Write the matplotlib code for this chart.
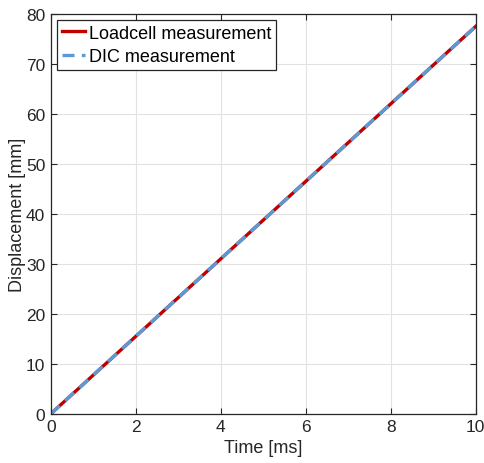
import matplotlib
matplotlib.use("Agg")
from matplotlib import pyplot as plt

plt.rcParams['font.family'] = ['Liberation Sans', 'DejaVu Sans']

# data
time_loadcell = [0, 2, 4, 6, 8, 10]
disp_loadcell = [0, 15.5, 31.0, 46.5, 62.0, 77.5]
time_dic = [0, 2, 4, 6, 8, 10]
disp_dic = [0, 15.5, 31.0, 46.5, 62.0, 77.5]

xticks = [0, 2, 4, 6, 8, 10]
yticks = [0, 10, 20, 30, 40, 50, 60, 70, 80]

fig = plt.figure(figsize=(4.84, 4.64), dpi=100)
ax = fig.add_axes([0.105, 0.106, 0.878, 0.862])

ax.plot(time_loadcell, disp_loadcell, color="#C00000", lw=2.4, label="Loadcell measurement")
ax.plot(time_dic, disp_dic, color="#5B9BD5", lw=2.4, ls=(0, (3.6, 2.2)), label="DIC measurement")

ax.set_xlim(0, 10)
ax.set_ylim(0, 80)
ax.set_xticks(xticks)
ax.set_yticks(yticks)
ax.tick_params(direction="in", top=True, right=True, labelsize=12.5, length=4, width=0.8,
               colors="#262626", pad=4)
ax.grid(True, color="#E2E2E2", lw=0.8)
ax.set_axisbelow(True)
for s in ax.spines.values():
    s.set_color("#262626")
    s.set_linewidth(0.9)

ax.set_xlabel("Time [ms]", fontsize=13, color="#262626", labelpad=3)
ax.set_ylabel("Displacement [mm]", fontsize=13, color="#262626", labelpad=0)

leg = ax.legend(loc="upper left", fontsize=13, fancybox=False, framealpha=1,
                edgecolor="#262626", borderaxespad=0.35, handlelength=1.3,
                handletextpad=0.2, borderpad=0.25, labelspacing=0.35)
leg.get_frame().set_linewidth(0.9)

fig.savefig("out.png", dpi=100)
